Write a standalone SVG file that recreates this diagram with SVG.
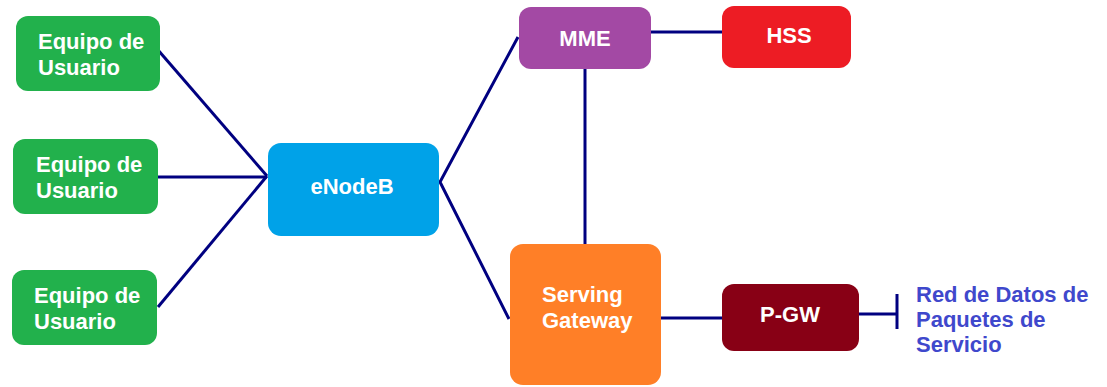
<svg xmlns="http://www.w3.org/2000/svg" width="1107" height="387" viewBox="0 0 1107 387">
  <style>
    .box { stroke: none; }
    .lbl { font-family: "Liberation Sans", Arial, sans-serif; font-size: 22px; font-weight: bold; fill: #ffffff; }
    .mid { text-anchor: middle; }
    .ext { font-family: "Liberation Sans", Arial, sans-serif; font-size: 22px; font-weight: bold; fill: #3F48CC; }
    .link { stroke: #000080; stroke-width: 3; fill: none; stroke-linecap: butt; }
  </style>
  <rect width="1107" height="387" fill="#ffffff"/>

  <!-- links between elements -->
  <g id="connectors">
    <line class="link" x1="158" y1="50" x2="267" y2="176"/>
    <line class="link" x1="158" y1="177" x2="267" y2="177"/>
    <line class="link" x1="158" y1="307" x2="267" y2="176"/>
    <polyline class="link" points="518,37 440,182 509,319"/>
    <line class="link" x1="651" y1="32" x2="722" y2="32"/>
    <line class="link" x1="585" y1="69" x2="585" y2="244"/>
    <line class="link" x1="661" y1="318" x2="722" y2="318"/>
    <line class="link" x1="858" y1="314" x2="897" y2="314"/>
    <line class="link" x1="897" y1="294" x2="897" y2="329"/>
  </g>

  <g id="ue1">
    <rect class="box" x="16" y="16" width="144" height="75" rx="12" fill="#22B14C"/>
    <text class="lbl" x="38" y="49">Equipo de</text>
    <text class="lbl" x="38" y="75">Usuario</text>
  </g>
  <g id="ue2">
    <rect class="box" x="13" y="139" width="145" height="75" rx="12" fill="#22B14C"/>
    <text class="lbl" x="36" y="172">Equipo de</text>
    <text class="lbl" x="36" y="198">Usuario</text>
  </g>
  <g id="ue3">
    <rect class="box" x="12" y="270" width="145" height="75" rx="12" fill="#22B14C"/>
    <text class="lbl" x="34" y="303">Equipo de</text>
    <text class="lbl" x="34" y="329">Usuario</text>
  </g>

  <g id="enodeb">
    <rect class="box" x="268" y="143" width="171" height="93" rx="13" fill="#00A2E8"/>
    <text class="lbl mid" x="352" y="194">eNodeB</text>
  </g>

  <g id="mme">
    <rect class="box" x="519" y="7" width="132" height="62" rx="12" fill="#A349A4"/>
    <text class="lbl mid" x="585" y="46">MME</text>
  </g>

  <g id="hss">
    <rect class="box" x="722" y="6" width="129" height="62" rx="12" fill="#ED1C24"/>
    <text class="lbl mid" x="789" y="43">HSS</text>
  </g>

  <g id="sgw">
    <rect class="box" x="510" y="244" width="151" height="141" rx="13" fill="#FF7F27"/>
    <text class="lbl" x="542" y="302">Serving</text>
    <text class="lbl" x="542" y="328">Gateway</text>
  </g>

  <g id="pgw">
    <rect class="box" x="722" y="284" width="137" height="67" rx="12" fill="#880015"/>
    <text class="lbl mid" x="790" y="322">P-GW</text>
  </g>

  <g id="pdn">
    <text class="ext" x="916" y="302">Red de Datos de</text>
    <text class="ext" x="916" y="327">Paquetes de</text>
    <text class="ext" x="916" y="352">Servicio</text>
  </g>
</svg>
